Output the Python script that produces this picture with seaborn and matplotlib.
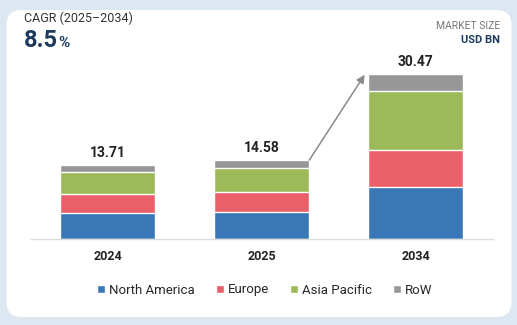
import matplotlib
matplotlib.use("Agg")
import matplotlib.pyplot as plt
from matplotlib.patches import FancyBboxPatch, Patch
import seaborn as sns
import numpy as np
import pandas as pd

years = ["2024", "2025", "2034"]
totals = ["13.71", "14.58", "30.47"]
north_america = [4.87, 5.05, 9.57]
europe = [3.52, 3.71, 6.90]
asia_pacific = [4.08, 4.45, 10.97]
row = [1.24, 1.37, 3.03]
regions = ["North America", "Europe", "Asia Pacific", "RoW"]
colors = ["#3a77b6", "#e9606a", "#9cba58", "#979797"]

sns.set_theme(style="white")
plt.rcParams["font.family"] = ["Roboto", "DejaVu Sans"]

fig = plt.figure(figsize=(5.17, 3.25), dpi=100)
fig.patch.set_facecolor("#dde7f1")
card = FancyBboxPatch((0.065, 0.08), 5.05, 3.07,
                      boxstyle="round,pad=0,rounding_size=0.15",
                      transform=fig.dpi_scale_trans, facecolor="white",
                      edgecolor="none", zorder=-5)
fig.patches.append(card)

ax = fig.add_axes([30.5 / 517, 1 - 239 / 325, 462 / 517, (239 - 40) / 325])
ax.set_zorder(2)
ax.set_facecolor("none")

series = [north_america, europe, asia_pacific, row]
cum = np.zeros(3)
cums = []
for s in series:
    cum = cum + np.array(s)
    cums.append(cum.copy())
for i in range(len(series) - 1, -1, -1):
    d = pd.DataFrame({"year": years, "val": cums[i]})
    sns.barplot(data=d, x="year", y="val", color=colors[i], width=0.62,
                saturation=1, ax=ax, zorder=2)

ax.set_xlim(-0.5, 2.5)
ax.set_ylim(0, 36.8)
for sp in ["top", "right", "left"]:
    ax.spines[sp].set_visible(False)
ax.spines["bottom"].set_color("#dddddd")
ax.spines["bottom"].set_linewidth(1)
ax.set_yticks([])
ax.set_xlabel("")
ax.set_ylabel("")
ax.tick_params(axis="x", length=0, pad=8)
ax.set_xticks(range(3))
ax.set_xticklabels(years, fontsize=9, fontweight="bold", color="#222222")

for i, t in enumerate(totals):
    ax.text(i, cums[-1][i] + 0.9, t, ha="center", va="bottom",
            fontsize=10, fontweight="bold", color="#222222")

ax.annotate("", xy=(2 - 0.33, cums[-1][2] - 0.1), xytext=(1 + 0.31, cums[-1][1]),
            arrowprops=dict(arrowstyle="-|>", color="#8a8a8a", lw=1.1,
                            mutation_scale=12, shrinkA=0, shrinkB=0))

fig.text(24 / 517, 1 - 18 / 325, "CAGR (2025\u20132034)", fontsize=9,
         color="#333333", va="center", ha="left")
t1 = fig.text(24 / 517, 1 - 47 / 325, "8.5", fontsize=17, fontweight="bold",
              color="#1c3a5e", va="baseline", ha="left")
fig.canvas.draw()
bb = t1.get_window_extent(fig.canvas.get_renderer())
fig.text((bb.x1 + 0.5) / 517, 1 - 47 / 325, "%", fontsize=11, fontweight="bold",
         color="#1c3a5e", va="baseline", ha="left")
fig.text(500 / 517, 1 - 26 / 325, "MARKET SIZE", fontsize=7.5,
         color="#777777", va="center", ha="right")
fig.text(500 / 517, 1 - 40 / 325, "USD BN", fontsize=8, fontweight="bold",
         color="#1c3a5e", va="center", ha="right")

handles = [Patch(facecolor=c, label=r) for c, r in zip(colors, regions)]
fig.legend(handles=handles, loc="center", bbox_to_anchor=(265 / 517, 1 - 290 / 325),
           ncol=4, frameon=False, fontsize=9.5, handlelength=0.6,
           handleheight=0.6, handletextpad=0.3, columnspacing=1.6)

fig.savefig("out.png", dpi=100, facecolor=fig.get_facecolor())
